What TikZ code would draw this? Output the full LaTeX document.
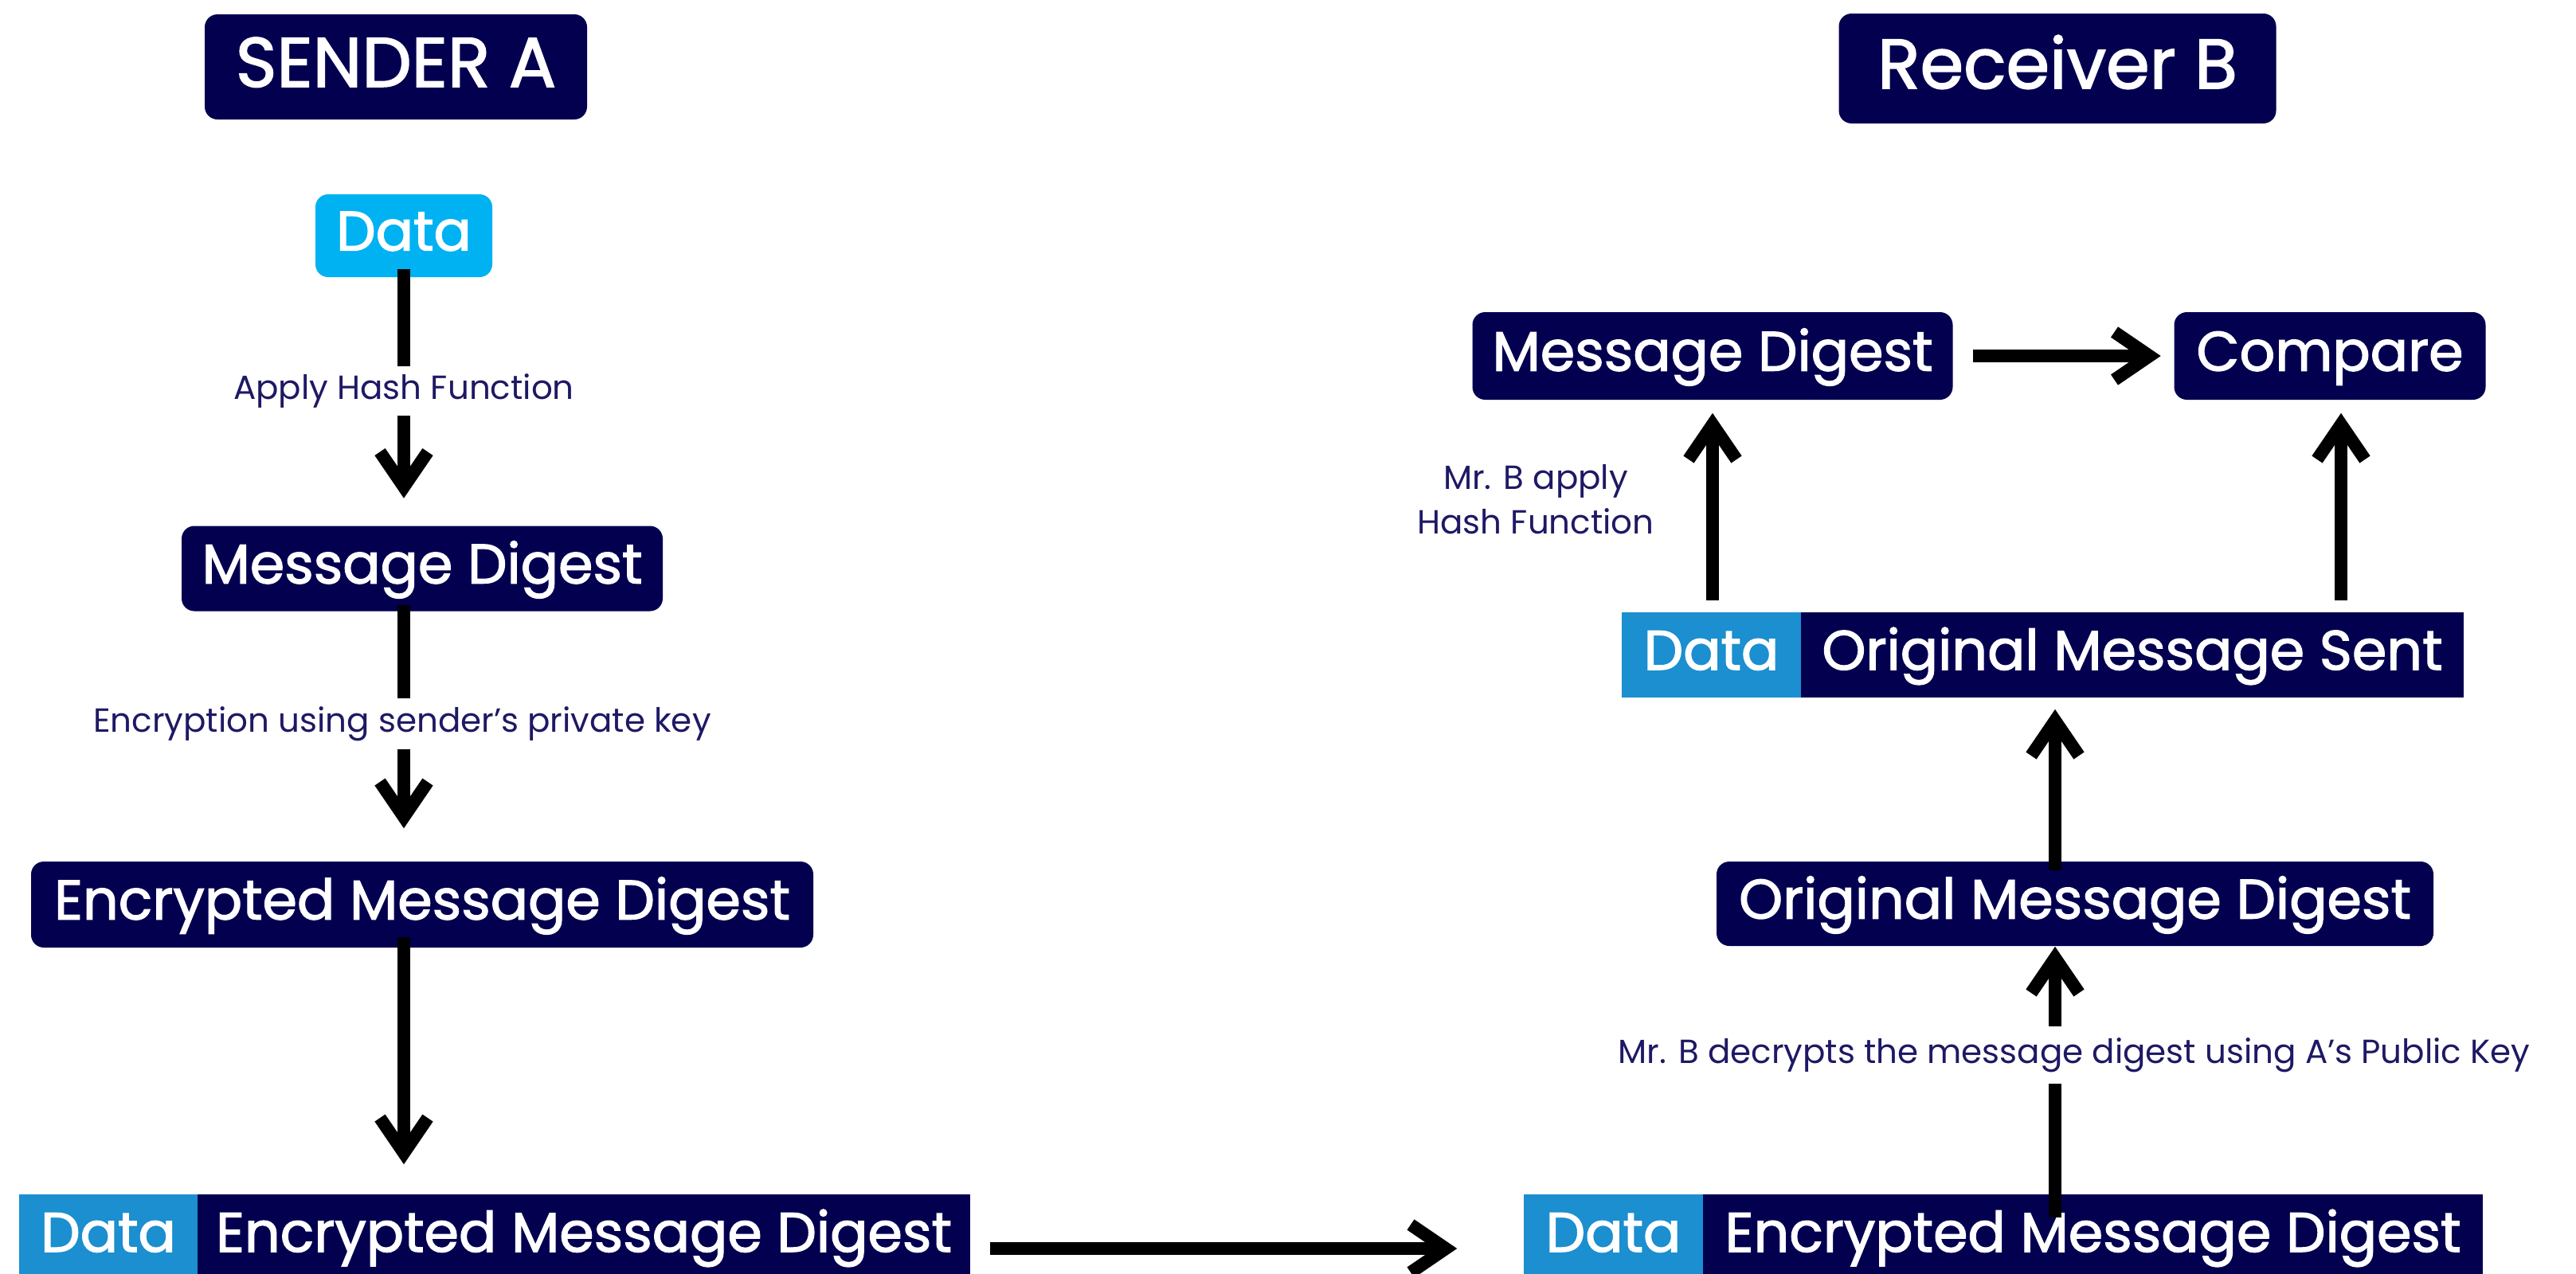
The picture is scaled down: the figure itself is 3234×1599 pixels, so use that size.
\documentclass[tikz,border=0pt]{standalone}
\usepackage{fontspec}
\setmainfont{Poppins}
\newfontfamily\boxfont{Poppins}[FakeBold=1.8]
\usetikzlibrary{arrows.meta}
\definecolor{navy}{RGB}{3,0,80}
\definecolor{cyanD}{RGB}{0,178,242}
\definecolor{blueD}{RGB}{27,143,207}
\definecolor{lblc}{RGB}{30,25,100}
\begin{document}
\begin{tikzpicture}[x=0.25pt,y=-0.25pt,
  boxtxt/.style={text=white,inner sep=0pt,font=\boxfont\fontsize{17.5}{20}\selectfont,text height=12.3pt,text depth=3pt},
  box/.style={boxtxt,fill=navy,rounded corners=4pt},
  sq/.style={boxtxt,fill=navy},
  dsq/.style={boxtxt,fill=blueD},
  head/.style={box,font=\boxfont\fontsize{22}{26}\selectfont,text height=15.5pt,text depth=3pt},
  lbl/.style={fill=white,text=lblc,inner xsep=1pt,inner ysep=2.5pt,font=\fontsize{10.5}{14}\selectfont,align=center},
  conn/.style={line width=4pt,-{Straight Barb[length=11pt,width=15pt]}}
]
\useasboundingbox (0,0) rectangle (3234,1599);
\clip (0,0) rectangle (3234,1599);

% ---------- Sender side ----------
\node[head,minimum width=120pt,minimum height=33pt] (sa) at (497,84) {SENDER A};
\node[box,fill=cyanD,minimum width=55.5pt,minimum height=26pt] (dat) at (507,296) {Data};
\node[box,minimum width=151pt,minimum height=26.75pt] (mda) at (530,714) {Message Digest};
\node[box,minimum width=245.5pt,minimum height=27pt] (emda) at (530,1136) {Encrypted Message Digest};
\node[dsq,minimum width=56pt,minimum height=26.75pt] (bld) at (136,1553.5) {Data};
\node[sq,minimum width=242.5pt,minimum height=26.75pt] (blm) at (733,1553.5) {Encrypted Message Digest};

% ---------- Receiver side ----------
\node[head,minimum width=137.25pt,minimum height=34.5pt] (rb) at (2583,86) {Receiver B};
\node[box,minimum width=150.75pt,minimum height=27.5pt] (mdb) at (2150,447) {Message Digest};
\node[box,minimum width=97.75pt,minimum height=27.5pt] (cmp) at (2925,447) {Compare};
\node[dsq,minimum width=56.25pt,minimum height=26.75pt] (osd) at (2148.5,822.5) {Data};
\node[sq,minimum width=208pt,minimum height=26.75pt] (osm) at (2677,822.5) {Original Message Sent};
\node[box,minimum width=225pt,minimum height=26.5pt] (omd) at (2605,1135) {Original Message Digest};
\node[dsq,minimum width=56.25pt,minimum height=26.75pt] (brd) at (2025.5,1553.5) {Data};
\node[sq,minimum width=244.75pt,minimum height=26.75pt] (brm) at (2627.5,1553.5) {Encrypted Message Digest};

% column coordinates
\coordinate (xl) at (507,0);
\coordinate (xc) at (2580,0);
\coordinate (xr1) at (2150,0);
\coordinate (xr2) at (2939,0);
\coordinate (yh) at (0,1568);

% ---------- connectors ----------
\draw[conn,shorten <=-2.75pt,shorten >=8.5pt] (dat.south -| xl) -- (mda.north -| xl);
\node[lbl] (l1) at (507,491) {Apply Hash Function};
\draw[conn,shorten <=-2pt,shorten >=10.25pt] (mda.south -| xl) -- (emda.north -| xl);
\node[lbl] (l2) at (505,909) {Encryption using sender's private key};
\draw[conn,shorten <=-3.5pt,shorten >=9.25pt] (emda.south -| xl) -- (blm.north -| xl);
\draw[conn,shorten <=6pt,shorten >=20.75pt] (blm.east |- yh) -- (brd.west |- yh);

\draw[conn,shorten <=-7.5pt,shorten >=0pt] (brm.north -| xc) -- (omd.south -| xc);
\node[lbl,inner ysep=3.5pt] (l3) at (2604,1325) {Mr. B decrypts the message digest using A's Public Key};
\draw[conn,shorten <=-3pt,shorten >=3.5pt] (omd.north -| xc) -- (osm.south -| xc);
\draw[conn,shorten <=3.5pt,shorten >=4pt] (osd.north -| xr1) -- (mdb.south -| xr1);
\draw[conn,shorten <=3.5pt,shorten >=4pt] (osm.north -| xr2) -- (cmp.south -| xr2);
\draw[conn,shorten <=6.25pt,shorten >=4pt] (mdb.east) -- (cmp.west);
\node[lbl,fill=none] (l4) at (1928,627) {Mr. B apply\\Hash Function};
\end{tikzpicture}
\end{document}
